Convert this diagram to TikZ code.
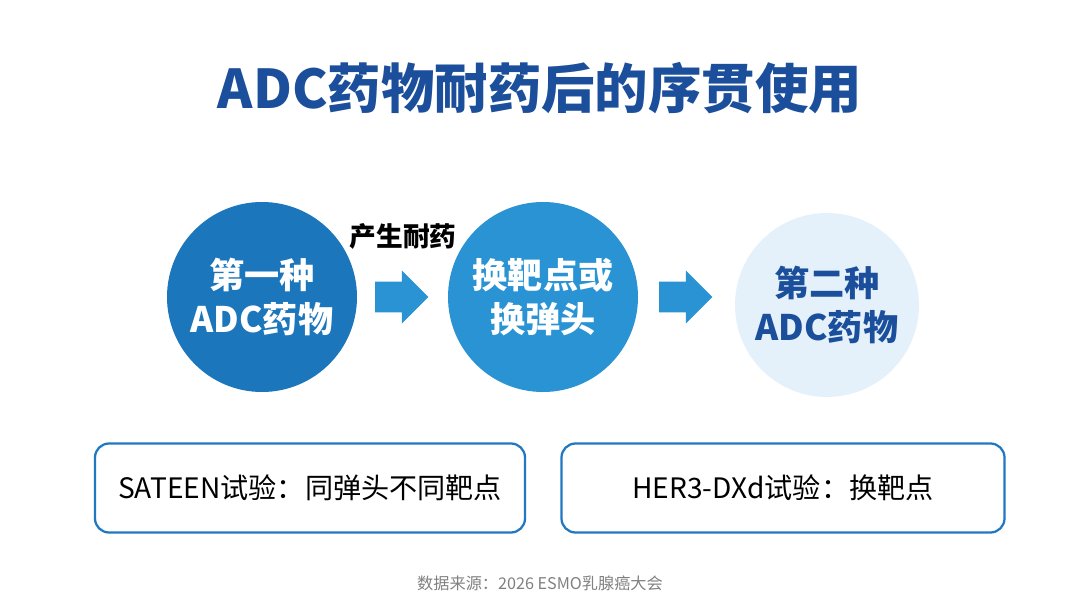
\documentclass[tikz,border=0pt]{standalone}
\usepackage{fontspec}
\setmainfont{Noto Sans CJK SC}
\usetikzlibrary{positioning,shapes.arrows}
\definecolor{titleblue}{HTML}{1B4E9B}
\definecolor{circA}{HTML}{1C76BC}
\definecolor{circB}{HTML}{2A93D3}
\definecolor{circC}{HTML}{E4F1FB}
\definecolor{boxline}{HTML}{1F78C1}
\tikzset{
  stage/.style={circle, minimum size=190*0.025cm, inner sep=0pt, align=center,
    font=\fontsize{25}{31}\selectfont\bfseries},
  flowarrow/.style={single arrow, fill=circB, minimum height=1.33cm,
    text height=0.375cm, text depth=0.375cm, text width=0pt,
    single arrow head extend=0.28cm, inner sep=0pt},
  trial/.style={draw=boxline, line width=1.6pt, rounded corners=0.35cm, fill=white,
    minimum height=89*0.025cm, font=\fontsize{20}{24}\selectfont}
}
\begin{document}
\begin{tikzpicture}[x=0.025cm, y=-0.025cm]
    \useasboundingbox (0,0) rectangle (1080,603);

    % Title
    \node[font=\fontsize{38}{44}\selectfont\bfseries, text=titleblue] (title) at (540,88) {ADC药物耐药后的序贯使用};

    % Stages
    \node[stage, fill=circA, text=white] (first) at (262,297) {第一种\\ADC药物};
    \node[stage, fill=circB, text=white] (switch) at (543,297) {换靶点或\\换弹头};
    \node[stage, fill=circC, text=titleblue, minimum size=184*0.025cm] (second) at (827,305) {第二种\\ADC药物};

    % Arrows
    \node[flowarrow] (stepA) at (394,297) {};
    \node[flowarrow] (stepB) at (678,297) {};
    \node[font=\fontsize{19}{22}\selectfont\bfseries] (resist) at (403,236) {产生耐药};

    % Trials
    \node[trial, minimum width=430*0.025cm] (sateen) at (310,488) {SATEEN试验：同弹头不同靶点};
    \node[trial, minimum width=443*0.025cm] (her3) at (783,488) {HER3-DXd试验：换靶点};

    % Source
    \node[font=\fontsize{11.5}{13}\selectfont, text=gray] (source) at (540,583) {数据来源：2026 ESMO乳腺癌大会};
\end{tikzpicture}
\end{document}
